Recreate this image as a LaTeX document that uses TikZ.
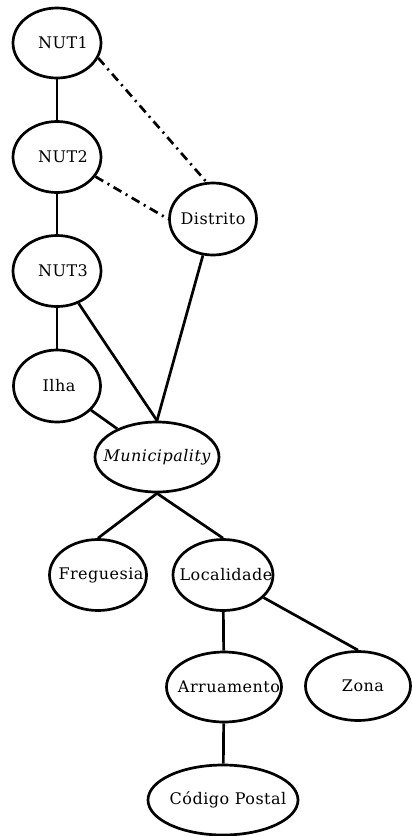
\documentclass[tikz,border=0pt]{standalone}
\usepackage{fontspec}
\setmainfont{DejaVu Serif}[LetterSpace=3]
\usetikzlibrary{shapes.geometric}
\begin{document}
\begin{tikzpicture}[x=1pt,y=-1pt,
  ent/.style 2 args={draw, ellipse, line width=2.7pt, inner sep=0pt,
    minimum width=#1pt, minimum height=#2pt, font=\fontsize{16}{18}\selectfont},
  link/.style={line width=2.7pt},
  dlink/.style={line width=2.7pt, dash pattern=on 9pt off 5pt on 2pt off 5pt}]
% label set on a zero-width box, shifted right by the optional amount
\newcommand\lbl[2][3pt]{\raisebox{-2pt}{\makebox[0pt]{\kern#1#2\kern-#1}}}
\useasboundingbox (0,0) rectangle (412,836);
\fill[white] (0,0) rectangle (412,836);
\node[ent={88}{70}] (nut1) at (57,43) {\lbl[6pt]{NUT1}};
\node[ent={88}{71}] (nut2) at (57,157) {\lbl[6pt]{NUT2}};
\node[ent={87}{72}] (distrito) at (213,219) {\lbl[0pt]{Distrito}};
\node[ent={88}{71}] (nut3) at (57,271) {\lbl[6pt]{NUT3}};
\node[ent={87}{72}] (ilha) at (57,386) {\lbl[2pt]{Ilha}};
\node[ent={124}{70}] (mun) at (157,457) {\lbl[0pt]{\itshape Municipality}};
\node[ent={97}{71}] (freg) at (98,575) {\lbl{Freguesia}};
\node[ent={100}{71}] (loc) at (223,575) {\lbl{Localidade}};
\node[ent={115}{70}] (arr) at (224,687) {\lbl[5pt]{Arruamento}};
\node[ent={105}{69}] (zona) at (358,686) {\lbl[5pt]{Zona}};
\node[ent={150}{70}] (cp) at (223,800) {\lbl[5pt]{Código Postal}};
\draw[link] (nut1) -- (nut2);
\draw[link] (nut2) -- (nut3);
\draw[link] (nut3) -- (ilha);
\draw[dlink] (nut1.-20) -- (distrito.100);
\draw[dlink] (nut2.-27) -- (distrito.west);
\draw[link] (nut3) -- (mun.north);
\draw[link] (distrito) -- (mun.north);
\draw[link] (ilha) -- (mun);
\draw[link] (mun.south) -- (freg.north);
\draw[link] (mun.south) -- (loc.north);
\draw[link] (loc) -- (arr);
\draw[link] (loc) -- (zona.north);
\draw[link] (arr) -- (cp);
\end{tikzpicture}
\end{document}
